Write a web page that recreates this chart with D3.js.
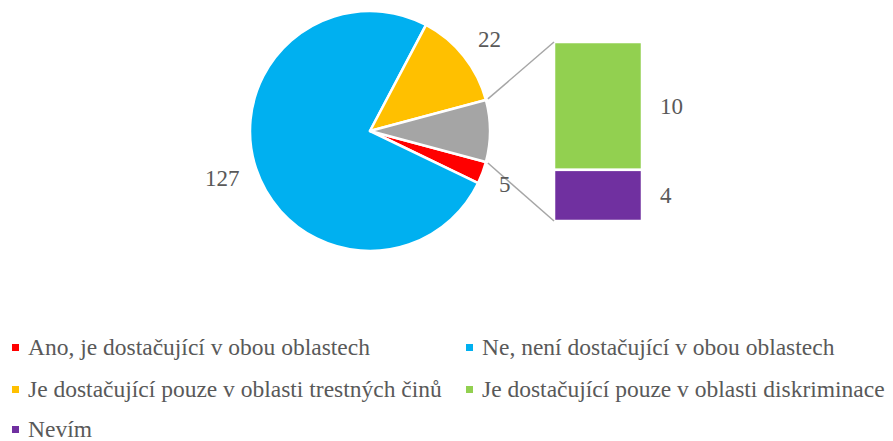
<!DOCTYPE html>
<html lang="cs">
	<head>
		<meta charset="utf-8">
		<title>Pie of bar</title>
		<script src="https://d3js.org/d3.v7.min.js"></script>
		<style type="text/css">
			body { margin: 0; background: #fff; }
			svg text { font-family: "Liberation Serif", "DejaVu Serif", "Times New Roman", serif; fill: #595959; }
		</style>
	</head>
	<body>
		<script type="text/javascript">

			// data
			var pieLabels = ["Ano, je dostačující v obou oblastech", "Ne, není dostačující v obou oblastech", "Je dostačující pouze v oblasti trestných činů"];
			var pieValues = [5, 127, 22];
			var pieColors = ["#ff0000", "#00b0f0", "#ffc000"];

			var barLabels = ["Je dostačující pouze v oblasti diskriminace", "Nevím"];
			var barValues = [10, 4];
			var barColors = ["#92d050", "#7030a0"];

			var otherColor = "#a5a5a5";

			var w = 893, h = 441;
			var cx = 370, cy = 131, r = 120;

			var svg = d3.select("body").append("svg")
				.attr("width", w)
				.attr("height", h);

			var otherTotal = d3.sum(barValues);
			var slices = pieValues.map(function(v, i) { return {label: pieLabels[i], value: v, color: pieColors[i]}; });
			slices.push({label: "other", value: otherTotal, color: otherColor, other: true});

			var total = d3.sum(slices, function(d) { return d.value; });
			var otherAngle = otherTotal / total * 2 * Math.PI;
			var start = Math.PI / 2 + otherAngle / 2;

			var pie = d3.pie()
				.sort(null)
				.value(function(d) { return d.value; })
				.startAngle(start)
				.endAngle(start + 2 * Math.PI);

			var arcs = pie(slices);
			var arc = d3.arc().innerRadius(0).outerRadius(r);

			var g = svg.append("g").attr("transform", "translate(" + cx + "," + cy + ")");

			g.selectAll("path")
				.data(arcs)
				.enter()
				.append("path")
				.attr("d", arc)
				.attr("fill", function(d) { return d.data.color; })
				.attr("stroke", "#fff")
				.attr("stroke-width", 2.5)
				.attr("stroke-linejoin", "round");

			// bar of the "other" part
			var barX = 554, barW = 88, barTop = 42, barBottom = 221;
			var y = d3.scaleLinear().domain([0, otherTotal]).range([barTop, barBottom]);
			var stack = [];
			var acc = 0;
			barValues.forEach(function(v, i) {
				stack.push({y0: acc, y1: acc + v, value: v, color: barColors[i]});
				acc += v;
			});

			svg.selectAll("rect.bar")
				.data(stack)
				.enter()
				.append("rect")
				.attr("class", "bar")
				.attr("x", barX)
				.attr("y", function(d) { return y(d.y0); })
				.attr("width", barW)
				.attr("height", function(d) { return y(d.y1) - y(d.y0); })
				.attr("fill", function(d) { return d.color; })
				.attr("stroke", "#fff")
				.attr("stroke-width", 2.5);

			// connector lines
			var oa = arcs[arcs.length - 1];
			function pt(a) { return [cx + r * Math.sin(a), cy - r * Math.cos(a)]; }
			var p1 = pt(oa.startAngle), p2 = pt(oa.endAngle);
			svg.append("line")
				.attr("x1", p1[0] + 2).attr("y1", p1[1] - 1)
				.attr("x2", barX).attr("y2", barTop)
				.attr("stroke", "#a6a6a6").attr("stroke-width", 1.5);
			svg.append("line")
				.attr("x1", p2[0] + 2).attr("y1", p2[1] + 1)
				.attr("x2", barX).attr("y2", barBottom)
				.attr("stroke", "#a6a6a6").attr("stroke-width", 1.5);

			// data labels
			var fs = 23;
			var lblPos = [[499, 192], [205, 186], [478, 47]];
			arcs.slice(0, 3).forEach(function(d, i) {
				svg.append("text")
					.attr("x", lblPos[i][0])
					.attr("y", lblPos[i][1])
					.attr("font-family", "Liberation Serif, DejaVu Serif, serif")
					.style("font-size", fs + "px")
					.text(d.data.value);
			});
			stack.forEach(function(d) {
				svg.append("text")
					.attr("x", 660)
					.attr("y", (y(d.y0) + y(d.y1)) / 2 + 8)
					.attr("font-family", "Liberation Serif, DejaVu Serif, serif")
					.style("font-size", fs + "px")
					.text(d.value);
			});

			// legend
			var legend = [
				{label: pieLabels[0], color: pieColors[0]},
				{label: pieLabels[1], color: pieColors[1]},
				{label: pieLabels[2], color: pieColors[2]},
				{label: barLabels[0], color: barColors[0]},
				{label: barLabels[1], color: barColors[1]}
			];
			var colX = [12, 466], rowY = [355, 397, 437];
			var lg = svg.selectAll("g.leg")
				.data(legend)
				.enter()
				.append("g")
				.attr("class", "leg")
				.attr("transform", function(d, i) { return "translate(" + colX[i % 2] + "," + rowY[Math.floor(i / 2)] + ")"; });
			lg.append("rect")
				.attr("x", 0).attr("y", -11)
				.attr("width", 7).attr("height", 7)
				.attr("fill", function(d) { return d.color; });
			lg.append("text")
				.attr("x", 16)
				.attr("y", 0)
				.attr("font-family", "Liberation Serif, DejaVu Serif, serif")
				.style("font-size", "23.5px")
				.text(function(d) { return d.label; });

		</script>
	</body>
</html>
